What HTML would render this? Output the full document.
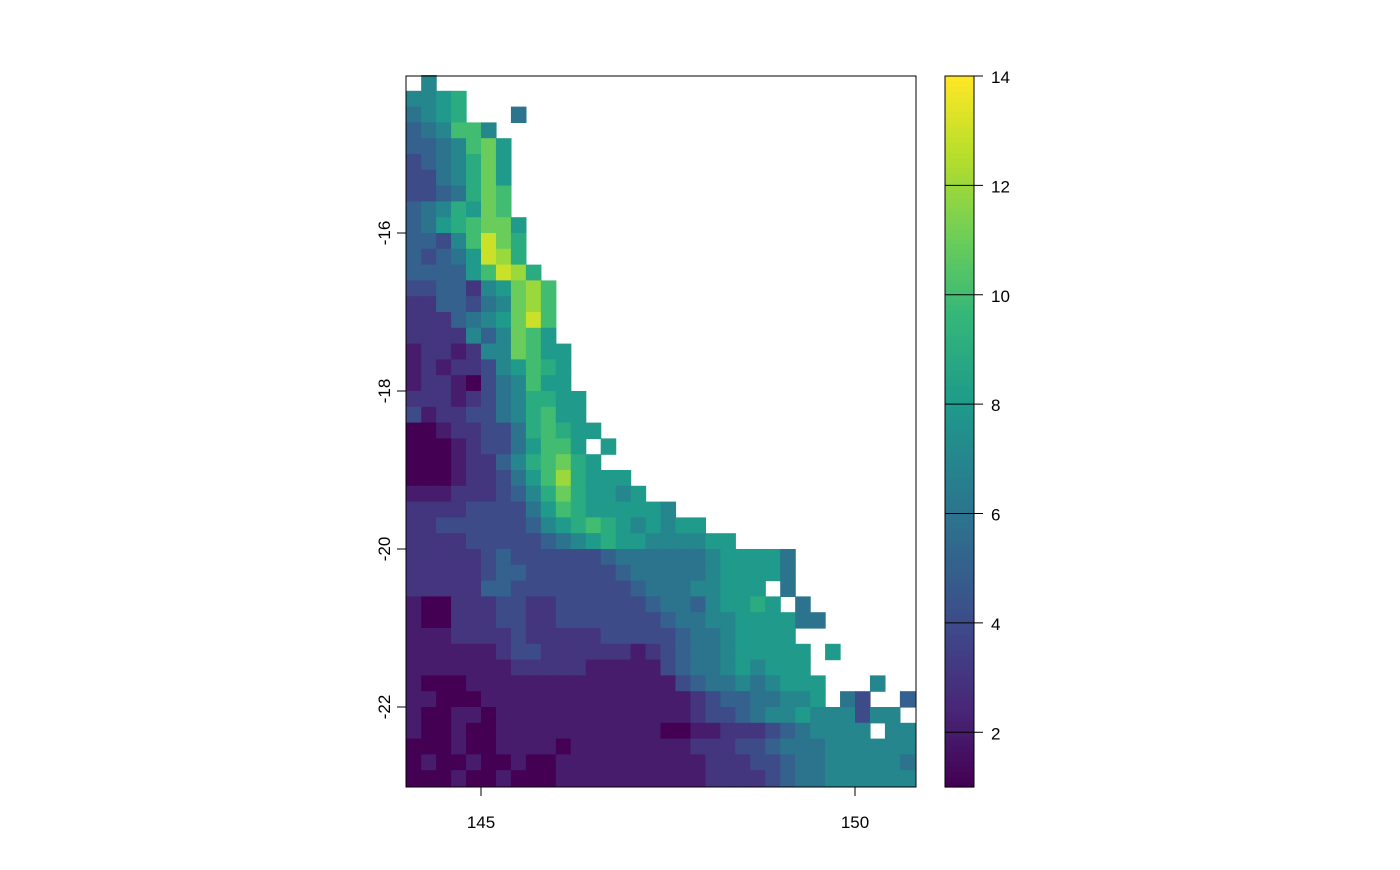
<!DOCTYPE html>
<html><head><meta charset="utf-8"><style>
html,body{margin:0;padding:0;background:#fff;}
svg text{font-family:"Liberation Sans",sans-serif;font-size:17px;fill:#000;}
</style></head><body>
<svg id="chart" width="1400" height="865" xmlns="http://www.w3.org/2000/svg">
<g id="cells"></g>
<rect x="406" y="76" width="510" height="711" fill="none" stroke="#000" stroke-width="1"/>
<g id="axes"></g>
<g id="cbar"></g>
</svg>
<script>
// grid data: 0.2 degree cells, rows from lat -14 southward, cols from lon 144 eastward
// '.' = no data, 1-9, a=10, b=11, c=12, d=13, e=14
const gridRows = [
".7","7789","6789...6","567aa7","5567ab8","45679b8","44679b8","44569ba","56798ba","5689abb8",
"5547adb9","54568dc9","55558adc9","4455378bca","3355467bca","3335678bda","3333757ba8","2332377ba88","23233478a98","23321467a88",
"333234679988","423344679a88","112334469a988","111234468aa8.8","111233579ab98","111233468ac9888","2223334579b98878","3333444468a9888887","334444445789a9878788","3333444445678988777788",
"33333454444445666666788886","33333455444444566666788886","333335544444444566677888.6","2113334433444444566578898.6","2113334433444444456677888866","22233334333334444456678888","222222344333333234566788888.8","222222233333222224566787888","2111222222222222224566767888...7","2211122222222222222345566778.64..5",
"211221222222222222234456778777477","2112112222222222211223334567777.77","1112112222122222222333445666777777","1211211211222222222233344566777776","1112112111222222222233334566777777"
];
const lonStart = 144.0, latStart = -14.0, cellDeg = 0.2;
const xTicks = [145, 150];
const yTicks = [-16, -18, -20, -22];
const cbTicks = [2, 4, 6, 8, 10, 12, 14];
const cbMin = 1, cbMax = 14;

const NS = "http://www.w3.org/2000/svg";
function xScale(lon){ return 481 + (lon - 145) * 74.8; }
function yScale(lat){ return 233 + (-16 - lat) * 79; }
function cbScale(v){ return 787 - (v - cbMin) / (cbMax - cbMin) * 711; }
const vir = [[68,1,84],[72,40,120],[62,74,137],[49,104,142],[38,130,142],[31,158,137],[53,183,121],[110,206,88],[181,222,43],[253,231,37]];
function viridis(t){
  t = Math.max(0, Math.min(1, t));
  const p = t * (vir.length - 1), i = Math.min(vir.length - 2, Math.floor(p)), f = p - i;
  const c = vir[i].map((a, k) => Math.round(a + (vir[i+1][k] - a) * f));
  return "rgb(" + c.join(",") + ")";
}
function mk(tag, attrs, parent){
  const e = document.createElementNS(NS, tag);
  for (const k in attrs) e.setAttribute(k, attrs[k]);
  parent.appendChild(e); return e;
}
const cells = document.getElementById("cells");
gridRows.forEach((row, r) => {
  for (let c = 0; c < row.length; c++) {
    const ch = row[c];
    if (ch === ".") continue;
    const v = parseInt(ch, 16);
    const x0 = xScale(lonStart + c * cellDeg), x1 = xScale(lonStart + (c + 1) * cellDeg);
    const y0 = yScale(latStart - r * cellDeg), y1 = yScale(latStart - (r + 1) * cellDeg);
    const el = mk("rect", {x: x0, y: y0, width: x1 - x0 + 0.6, height: y1 - y0 + 0.6, fill: viridis((v - cbMin) / (cbMax - cbMin))}, cells);
    
    
  }
});
const axes = document.getElementById("axes");
xTicks.forEach(t => {
  const x = xScale(t);
  const l = mk("line", {x1: x, x2: x, y1: 787, y2: 796, stroke: "#000"}, axes);
  
  
  const tx = mk("text", {x: x, y: 828, "text-anchor": "middle"}, axes);
  tx.textContent = t;
  
  
});
yTicks.forEach(t => {
  const y = yScale(t);
  const l = mk("line", {x1: 397, x2: 406, y1: y, y2: y, stroke: "#000"}, axes);
  
  
  const tx = mk("text", {x: 390, y: y, "text-anchor": "middle", transform: "rotate(-90 390 " + y + ")"}, axes);
  tx.textContent = t;
  
  
});
const cb = document.getElementById("cbar");
const N = 140;
for (let i = 0; i < N; i++) {
  const v0 = cbMin + (cbMax - cbMin) * i / N, v1 = cbMin + (cbMax - cbMin) * (i + 1) / N;
  const el = mk("rect", {x: 945, y: cbScale(v1), width: 29, height: cbScale(v0) - cbScale(v1) + 0.6, fill: viridis(i / (N - 1))}, cb);
  
  
}
const fr = mk("rect", {x: 945, y: 76, width: 29, height: 711, fill: "none", stroke: "#000"}, cb);


cbTicks.forEach(t => {
  const y = cbScale(t);
  const l = mk("line", {x1: 945, x2: 983, y1: y, y2: y, stroke: "#000"}, cb);
  
  
  const tx = mk("text", {x: 991, y: y + 7, "font-size": "20px"}, cb);
  tx.textContent = t;
  
  
});
</script>
</body></html>
